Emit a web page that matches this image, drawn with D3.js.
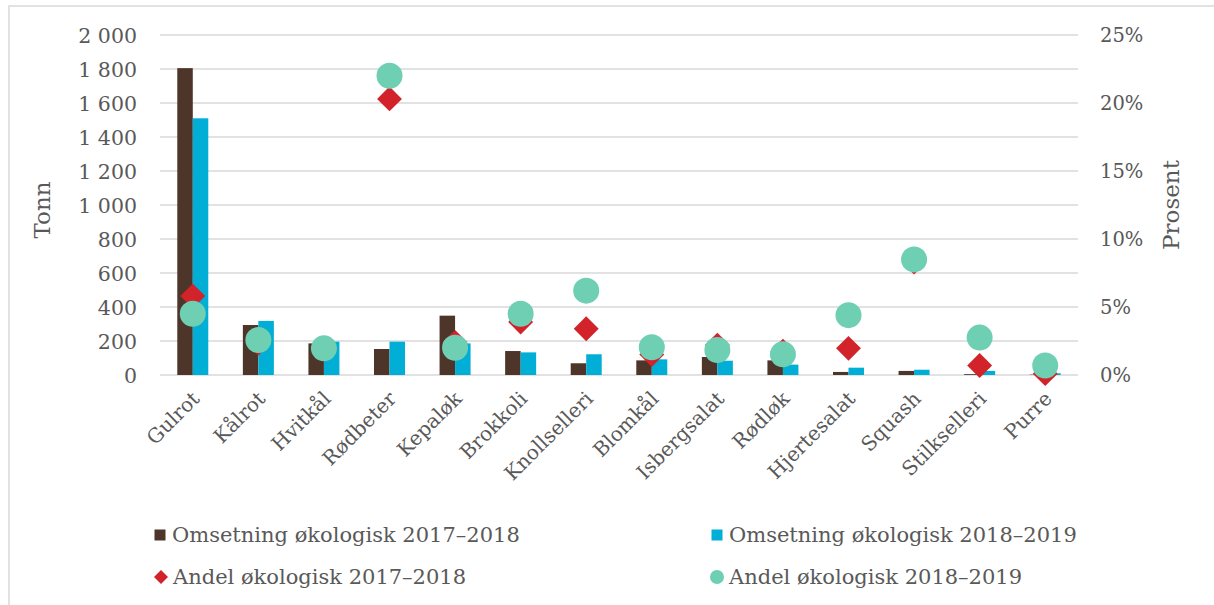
<!DOCTYPE html>
<html><head><meta charset="utf-8">
<script src="https://cdn.jsdelivr.net/npm/d3@7"></script>
<style>body{margin:0;background:#fff}svg{display:block}text{font-family:'DejaVu Serif',Georgia,serif;fill:#595959}</style>
</head><body><svg id="c" width="1214" height="605"></svg>
<script>
const categories = ["Gulrot","Kålrot","Hvitkål","Rødbeter","Kepaløk","Brokkoli","Knollselleri","Blomkål","Isbergsalat","Rødløk","Hjertesalat","Squash","Stilkselleri","Purre"];
const oms2017 = [1805,294,186,153,349,141,69,86,106,86,18,24,5,2];
const oms2018 = [1510,318,196,196,186,133,122,92,84,61,43,31,24,10];
const andel2017 = [5.8,2.35,1.9,20.3,2.4,3.9,3.4,1.5,2.2,1.75,1.96,8.3,0.7,0.1];
const andel2018 = [4.5,2.57,1.96,22.0,2.0,4.5,6.2,2.04,1.84,1.52,4.4,8.5,2.75,0.7];
const leftTicks = [0,200,400,600,800,1000,1200,1400,1600,1800,2000];
const rightTicks = [0,5,10,15,20,25];
const seriesNames = ["Omsetning økologisk 2017–2018","Omsetning økologisk 2018–2019","Andel økologisk 2017–2018","Andel økologisk 2018–2019"];
const colors = ["#4D3629","#00AED6","#D2232A","#6ECFB3"];

const svg = d3.select("#c");
const L=160,R=1078,T=35,B=375;
svg.append("rect").attr("x",9).attr("y",6).attr("width",1230).attr("height",630).attr("fill","none").attr("stroke","#d9d9d9").attr("stroke-width",1.5);

const x = d3.scaleBand().domain(categories).range([L,R]).paddingInner(0).paddingOuter(0);
const y = d3.scaleLinear().domain([0,2000]).range([B,T]);
const y2 = d3.scaleLinear().domain([0,25]).range([B,T]);
const fmt = d => d3.format(",")(d).replace(",", " ");

// gridlines
svg.append("g").selectAll("line").data(leftTicks).join("line")
  .attr("x1",L).attr("x2",R).attr("y1",d=>y(d)).attr("y2",d=>y(d))
  .attr("stroke","#d9d9d9").attr("stroke-width",1.5);

// left axis
const ga = svg.append("g").attr("transform",`translate(${L},0)`)
  .call(d3.axisLeft(y).tickValues(leftTicks).tickFormat(fmt).tickSize(0).tickPadding(23));
ga.select(".domain").remove();
ga.selectAll("text").attr("font-size",20.5).attr("fill","#595959").attr("font-family","'DejaVu Serif',serif").attr("dy","0.35em");

const gb = svg.append("g").attr("transform",`translate(${R},0)`)
  .call(d3.axisRight(y2).tickValues(rightTicks).tickFormat(d=>d+"%").tickSize(0).tickPadding(22));
gb.select(".domain").remove();
gb.selectAll("text").attr("font-size",19.5).attr("fill","#595959").attr("font-family","'DejaVu Serif',serif").attr("dy","0.35em");

svg.append("text").attr("transform","translate(50,210) rotate(-90)").attr("text-anchor","middle").attr("font-size",23).text("Tonn");
svg.append("text").attr("transform","translate(1179,205) rotate(-90)").attr("text-anchor","middle").attr("font-size",23).text("Prosent");

// bars
const bw = 15.5;
const gBars = svg.append("g");
gBars.selectAll(".b1").data(categories).join("rect")
  .attr("x",(d)=>x(d)+x.bandwidth()/2-bw).attr("width",bw)
  .attr("y",(d,i)=>y(oms2017[i])).attr("height",(d,i)=>B-y(oms2017[i])).attr("fill",colors[0]);
gBars.selectAll(".b2").data(categories).join("rect")
  .attr("x",(d)=>x(d)+x.bandwidth()/2).attr("width",bw)
  .attr("y",(d,i)=>y(oms2018[i])).attr("height",(d,i)=>B-y(oms2018[i])).attr("fill",colors[1]);

// diamonds
const diamond = d3.symbol().type(d3.symbolSquare).size(310);
svg.append("g").selectAll("path").data(categories).join("path")
  .attr("d",diamond)
  .attr("transform",(d,i)=>`translate(${x(d)+x.bandwidth()/2},${y2(andel2017[i])}) rotate(45)`)
  .attr("fill",colors[2]);
svg.append("g").selectAll("circle").data(categories).join("circle")
  .attr("cx",d=>x(d)+x.bandwidth()/2).attr("cy",(d,i)=>y2(andel2018[i])).attr("r",13)
  .attr("fill",colors[3]);

// x labels
svg.append("g").selectAll("text").data(categories).join("text")
  .attr("transform",d=>`translate(${x(d)+x.bandwidth()/2+8},${400}) rotate(-45)`)
  .attr("text-anchor","end").attr("font-size",20).text(d=>d);

// legend
const lg = svg.append("g");
const lpos = [[160,535],[717,535],[161,577],[717,577]];
lg.append("rect").attr("x",lpos[0][0]-5.5).attr("y",lpos[0][1]-5.5).attr("width",11).attr("height",11).attr("fill",colors[0]);
lg.append("rect").attr("x",lpos[1][0]-5.5).attr("y",lpos[1][1]-5.5).attr("width",11).attr("height",11).attr("fill",colors[1]);
lg.append("path").attr("d","M0,-7L7,0L0,7L-7,0Z").attr("transform",`translate(${lpos[2][0]},${lpos[2][1]})`).attr("fill",colors[2]);
lg.append("circle").attr("cx",lpos[3][0]).attr("cy",lpos[3][1]).attr("r",7).attr("fill",colors[3]);
lg.selectAll("text").data(seriesNames).join("text")
  .attr("x",(d,i)=>lpos[i][0]+12).attr("y",(d,i)=>lpos[i][1]).attr("dy","0.35em")
  .attr("font-size",21).text(d=>d);
</script></body></html>
